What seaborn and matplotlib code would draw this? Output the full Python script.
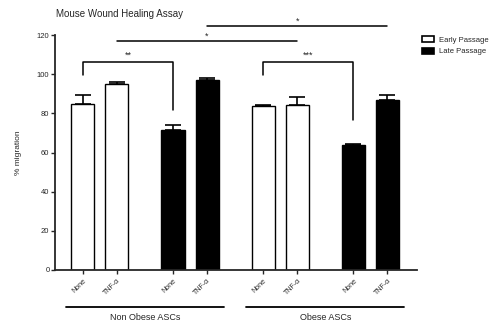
import numpy as np
import pandas as pd
import seaborn as sns
import matplotlib.pyplot as plt
from matplotlib.patches import Patch

# Dados
groups = ["Non Obese ASCs", "Obese ASCs"]
passages = ["Early Passage", "Late Passage"]
treatments = ["None", "TNF-\u03b1"]
migration = [84.8, 94.8, 71.5, 96.9, 84.0, 84.3, 63.8, 86.8]
sem = [4.6, 1.0, 2.4, 1.1, 0.2, 4.1, 0.3, 2.6]

# posicoes: grupo > passagem > tratamento
rows = []
for g in range(2):
    for p in range(2):
        for t in range(2):
            i = g * 4 + p * 2 + t
            rows.append({
                'group': groups[g], 'passage': passages[p], 'treat': treatments[t],
                'pos': g * 5.3 + p * 2.65 + t,
                'migration': migration[i], 'sem': sem[i],
            })
df = pd.DataFrame(rows)

sns.set_style('ticks')
plt.rcParams['font.family'] = ['Liberation Sans', 'DejaVu Sans']

fig = plt.figure(figsize=(4.97, 3.28), dpi=100)
ax = fig.add_axes([55/497, 58/328, 362/497, 235/328])

sns.barplot(data=df, x='pos', y='migration', hue='passage', native_scale=True,
            palette={'Early Passage': 'white', 'Late Passage': 'black'},
            edgecolor='black', linewidth=1.0, width=0.68, dodge=False,
            legend=False, errorbar=None, ax=ax)

ax.errorbar(df['pos'], df['migration'],
            yerr=[np.zeros(len(df)), df['sem']],
            fmt='none', ecolor='black', elinewidth=1.2, capsize=5.5, capthick=1.2)

ax.set_xlim(-0.82, 9.82)
ax.set_ylim(0, 120)
ax.set_yticks(range(0, 121, 20))
ax.set_xticks(df['pos'])
ax.set_xticklabels(df['treat'], rotation=45, ha='right', rotation_mode='anchor', fontsize=5)
ax.tick_params(axis='y', labelsize=5.5, length=3, width=1, pad=1)
ax.tick_params(axis='x', length=3, width=1, pad=2)
ax.set_xlabel('')
ax.set_ylabel('% migration', fontsize=6, labelpad=11)
for s in ['left', 'bottom']:
    ax.spines[s].set_linewidth(1.3)
sns.despine(ax=ax)

fig.text(119/497, 1 - 14/328, 'Mouse Wound Healing Assay', fontsize=7,
         ha='center', va='center')

# colchetes de significancia
pos = df['pos'].values
kw = dict(color='black', lw=1.1, clip_on=False)
ax.plot([pos[0], pos[0], pos[2], pos[2]], [99.6, 106.4, 106.4, 81.7], **kw)
ax.text((pos[0] + pos[2]) / 2, 108.5, '**', ha='center', fontsize=6.5)
ax.plot([pos[4], pos[4], pos[6], pos[6]], [99.6, 106.4, 106.4, 76.6], **kw)
ax.text((pos[4] + pos[6]) / 2, 108.5, '***', ha='center', fontsize=6.5)
ax.plot([pos[1], pos[5]], [117.1, 117.1], **kw)
ax.text((pos[1] + pos[5]) / 2, 118.2, '*', ha='center', fontsize=6.5)
ax.plot([pos[3], pos[7]], [124.8, 124.8], **kw)
ax.text((pos[3] + pos[7]) / 2, 125.9, '*', ha='center', fontsize=6.5)

# linhas dos grupos
for g in range(2):
    x0 = pos[g * 4] - 0.5
    x1 = pos[g * 4 + 3] + 0.5
    ax.plot([x0, x1], [-18.8, -18.8], color='black', lw=1.3, clip_on=False)
    ax.text((x0 + x1) / 2, -24.3, groups[g], ha='center', va='center', fontsize=6.5)

handles = [Patch(facecolor=c, edgecolor='black', linewidth=1.2, label=l)
           for c, l in zip(['white', 'black'], passages)]
fig.legend(handles=handles, loc='upper left', bbox_to_anchor=(422/497, 1 - 36/328),
           frameon=False, fontsize=5.5, handlelength=1.6, handleheight=0.9,
           handletextpad=0.6, labelspacing=0.5, borderaxespad=0, borderpad=0)

plt.savefig('out.png', dpi=100)
